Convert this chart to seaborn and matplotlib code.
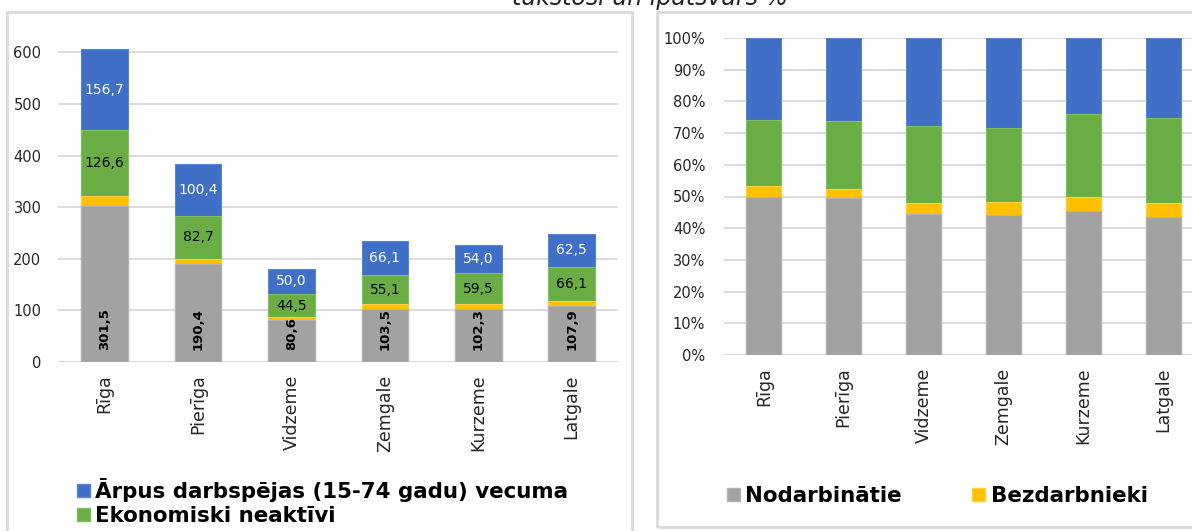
import matplotlib
matplotlib.use("Agg")
import matplotlib.pyplot as plt
import seaborn as sns
import numpy as np
from matplotlib.patches import Patch, Rectangle

# data (tūkst.)
regions = ["Rīga", "Pierīga", "Vidzeme", "Zemgale", "Kurzeme", "Latgale"]
employed = [301.5, 190.4, 80.6, 103.5, 102.3, 107.9]
unemployed = [21.0, 10.0, 6.0, 9.0, 10.0, 11.0]
inactive = [126.6, 82.7, 44.5, 55.1, 59.5, 66.1]
outside_age = [156.7, 100.4, 50.0, 66.1, 54.0, 62.5]

series_names = ["Nodarbinātie", "Bezdarbnieki", "Ekonomiski neaktīvi",
                "Ārpus darbspējas (15-74 gadu) vecuma"]
left_ticks = [0, 100, 200, 300, 400, 500, 600]
right_ticks = [0, 0.1, 0.2, 0.3, 0.4, 0.5, 0.6, 0.7, 0.8, 0.9, 1.0]

colors = ["#a2a2a2", "#ffc000", "#6aad45", "#3f6fc6"]
edges = ["#b4b4b4", "#ffd040", "#82c060", "#5a86d4"]
grid_c = "#d9d9d9"
text_c = "#262626"

sns.set_theme(style="white")
plt.rcParams["font.family"] = ["DejaVu Sans"]

W, H = 1192, 531
fig = plt.figure(figsize=(W / 100, H / 100), dpi=100)

# panel frames
fig.patches.append(Rectangle((7 / W, -0.05), 625 / W, 1.05 - 12 / H, transform=fig.transFigure,
                             fill=False, edgecolor=grid_c, lw=2))
fig.patches.append(Rectangle((657 / W, 1 - 527 / H), 0.6, (527 - 12) / H, transform=fig.transFigure,
                             fill=False, edgecolor=grid_c, lw=2))

# title, cut at the top edge as in the source
fig.text(650 / W, 1 - 5 / H, "tūkstoši un īpatsvars %", ha="center", va="baseline",
         fontsize=17, style="italic", color="#222222")

layers = np.array([employed, unemployed, inactive, outside_age])
cum = np.cumsum(layers, axis=0)
share = cum / cum[-1]


def stacked(ax, stack, width):
    # draw cumulative totals from the top layer down
    for i in range(3, -1, -1):
        sns.barplot(x=regions, y=stack[i], color=colors[i], width=width, saturation=1,
                    edgecolor=edges[i], linewidth=0.8, ax=ax)
    ax.yaxis.grid(True, color=grid_c, lw=1.3)
    ax.set_axisbelow(True)
    sns.despine(ax=ax, left=True, bottom=True)
    ax.set_xlabel("")
    ax.set_ylabel("")
    ax.tick_params(axis="both", length=0)
    ax.tick_params(axis="x", rotation=90, labelsize=12.5, labelcolor=text_c, pad=9)
    ax.tick_params(axis="y", labelsize=10.5, labelcolor=text_c)


# left: absolute values
ax1 = fig.add_axes([58 / W, (H - 362) / H, 560.4 / W, 320 / H])
stacked(ax1, cum, 0.5)
ax1.set_ylim(0, 620)
ax1.set_yticks(left_ticks)
ax1.tick_params(axis="y", pad=12)

for j in range(len(regions)):
    ax1.annotate(f"{employed[j]:.1f}".replace(".", ","), (j, 0), xytext=(0, 9),
                 textcoords="offset points", rotation=90, ha="center", va="bottom",
                 fontsize=9.5, fontweight="bold", color="black")
    ax1.text(j, cum[1][j] + inactive[j] / 2, f"{inactive[j]:.1f}".replace(".", ","),
             ha="center", va="center", fontsize=10, color="black")
    ax1.text(j, cum[2][j] + outside_age[j] / 2, f"{outside_age[j]:.1f}".replace(".", ","),
             ha="center", va="center", fontsize=10, color="white")

# right: shares
ax2 = fig.add_axes([724 / W, (H - 355) / H, 479 / W, 317 / H])
stacked(ax2, share, 0.44)
ax2.set_ylim(0, 1.0)
ax2.set_yticks(right_ticks)
ax2.set_yticklabels([f"{int(round(t * 100))}%" for t in right_ticks])
ax2.tick_params(axis="y", pad=13.5)

# legends
leg_font = {"weight": "bold", "size": 15.4}
h_left = [Patch(facecolor=colors[3], edgecolor=edges[3]), Patch(facecolor=colors[2], edgecolor=edges[2])]
fig.legend(h_left, [series_names[3], series_names[2]], loc="center left",
           bbox_to_anchor=(77 / W, 1 - 502 / H), frameon=False, handlelength=0.6,
           handleheight=0.6, handletextpad=0.25, labelspacing=0.2, borderpad=0,
           borderaxespad=0, prop=leg_font, labelcolor="black")
h_right = [Patch(facecolor=colors[0], edgecolor=edges[0]), Patch(facecolor=colors[1], edgecolor=edges[1])]
fig.legend(h_right, [series_names[0], series_names[1]], loc="center left",
           bbox_to_anchor=(727 / W, 1 - 496 / H), frameon=False, ncol=2, handlelength=0.6,
           handleheight=0.6, handletextpad=0.25, columnspacing=3.3, borderpad=0,
           borderaxespad=0, prop=leg_font, labelcolor="black")

fig.savefig("out.png", dpi=100)
